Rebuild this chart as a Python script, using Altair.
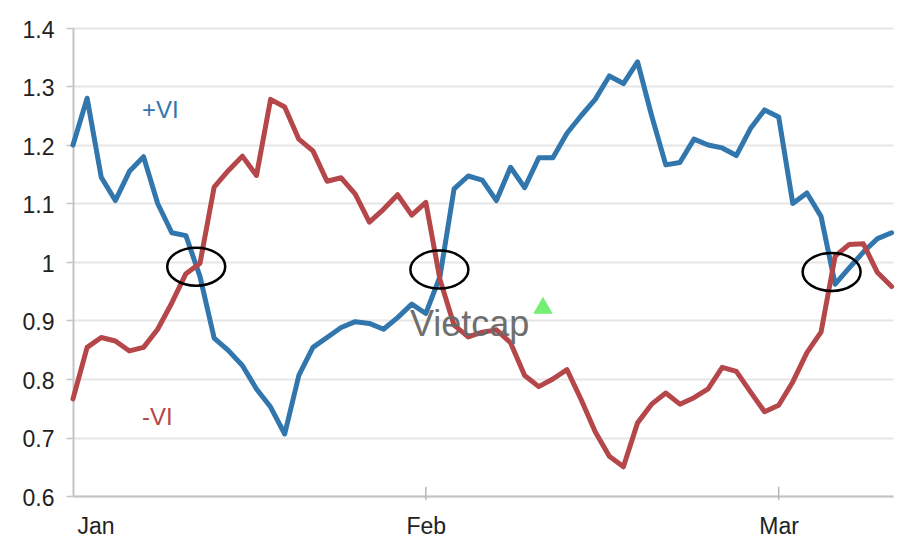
import altair as alt
import pandas as pd

# ---- data ----
month_names = ["Jan", "Feb", "Mar"]
month_pos = [0, 25, 50]
y_ticks = [0.6, 0.7, 0.8, 0.9, 1.0, 1.1, 1.2, 1.3, 1.4]
series_names = ["+VI", "-VI"]
series_colors = ["#3176ad", "#b5474a"]

plus_vi = [1.20, 1.28, 1.145, 1.105, 1.155, 1.18, 1.10, 1.05, 1.045, 0.975,
           0.87, 0.849, 0.823, 0.783, 0.752, 0.706, 0.806, 0.854, 0.871, 0.888,
           0.898, 0.895, 0.885, 0.905, 0.928, 0.912, 0.975, 1.125, 1.147, 1.14,
           1.105, 1.162, 1.127, 1.178, 1.178, 1.22, 1.25, 1.278, 1.318, 1.305,
           1.342, 1.25, 1.166, 1.17, 1.21, 1.20, 1.195, 1.182, 1.228, 1.26,
           1.248, 1.10, 1.118, 1.078, 0.962, 0.99, 1.017, 1.04, 1.05]
minus_vi = [0.766, 0.854, 0.871, 0.865, 0.848, 0.854, 0.885, 0.93, 0.98, 0.998,
            1.128, 1.156, 1.181, 1.148, 1.278, 1.265, 1.21, 1.19, 1.138, 1.144,
            1.116, 1.068, 1.09, 1.115, 1.08, 1.102, 0.97, 0.892, 0.872, 0.88,
            0.884, 0.862, 0.806, 0.787, 0.80, 0.816, 0.765, 0.71, 0.668, 0.65,
            0.725, 0.757, 0.776, 0.757, 0.768, 0.783, 0.82, 0.813, 0.778, 0.744,
            0.755, 0.795, 0.845, 0.88, 1.01, 1.03, 1.031, 0.982, 0.958]

# crossing points circled in the reference
cross_t = [8.73, 25.96, 53.75]
cross_v = [0.992, 0.987, 0.983]

# ---- tables ----
n = len(plus_vi)
df = pd.DataFrame({
    "t": list(range(n)) + list(range(len(minus_vi))),
    "v": plus_vi + minus_vi,
    "s": [series_names[0]] * n + [series_names[1]] * len(minus_vi),
})
cross_df = pd.DataFrame({"t": cross_t, "v": cross_v})
tick_df = pd.DataFrame({"t": month_pos[1:]})
one = pd.DataFrame({"_": [0]})

label_expr = "".join(
    f"datum.value == {p} ? '{m}' : " for p, m in zip(month_pos, month_names)
) + "''"

x_scale = alt.Scale(domain=[0, 58.1], nice=False, zero=False)
y_scale = alt.Scale(domain=[0.6, 1.4], nice=False, zero=False)
FONT = "Liberation Sans"

lines = alt.Chart(df).mark_line(strokeWidth=5, strokeJoin="round", strokeCap="round").encode(
    x=alt.X("t:Q", scale=x_scale, axis=alt.Axis(
        values=month_pos, labelExpr=label_expr, title=None, grid=False,
        ticks=False, domainColor="#c4c4c4", domainWidth=2,
        labelFontSize=23, labelColor="#222222", labelFont=FONT,
        labelPadding=19, labelFlush=True, labelFlushOffset=-4, labelAngle=0)),
    y=alt.Y("v:Q", scale=y_scale, axis=alt.Axis(
        values=y_ticks, format="~g", title=None, grid=True,
        gridColor="#e6e6e6", gridWidth=2, domainColor="#c4c4c4", domainWidth=2,
        tickColor="#c4c4c4", tickSize=7, tickWidth=1.5,
        labelFontSize=23, labelColor="#222222", labelFont=FONT,
        labelPadding=12, labelOffset=2)),
    color=alt.Color("s:N", scale=alt.Scale(domain=series_names, range=series_colors),
                    legend=None),
)

ticks = alt.Chart(tick_df).mark_rule(color="#b8b8b8", strokeWidth=1.5).encode(
    x="t:Q", y=alt.datum(0.593), y2=alt.datum(0.616))

ellipse_path = "M-1,0 A1,0.655 0 1,1 1,0 A1,0.655 0 1,1 -1,0 Z"
ellipses = alt.Chart(cross_df).mark_point(
    shape=ellipse_path, size=3364, filled=False, color="black",
    strokeWidth=2.5, opacity=1).encode(x="t:Q", y="v:Q")

plus_lbl = alt.Chart(one).mark_text(
    text="+VI", font=FONT, fontSize=24, color=series_colors[0],
    align="center", baseline="middle").encode(x=alt.datum(6.18), y=alt.datum(1.2575))
minus_lbl = alt.Chart(one).mark_text(
    text="-VI", font=FONT, fontSize=24, color=series_colors[1],
    align="center", baseline="middle").encode(x=alt.datum(5.97), y=alt.datum(0.7336))

wm_text = alt.Chart(one).mark_text(
    text="Vietcap", font=FONT, fontSize=36, color="#686868", opacity=0.95,
    align="left", baseline="alphabetic").encode(x=alt.datum(23.87), y=alt.datum(0.8735))
wm_tri = alt.Chart(one).mark_point(
    shape="triangle-up", size=380, filled=True, color="#74ee74", opacity=1).encode(
    x=alt.datum(33.3), y=alt.datum(0.926))

chart = alt.layer(
    lines, ticks, ellipses, plus_lbl, minus_lbl, wm_text, wm_tri
).properties(
    width=820, height=468,
    autosize=alt.AutoSizeParams(type="none"),
    padding={"left": 73, "top": 28, "right": 23, "bottom": 52},
).configure(background="white").configure_view(stroke=None)

chart.save("out.html", embed_options={"renderer": "svg", "actions": False})
